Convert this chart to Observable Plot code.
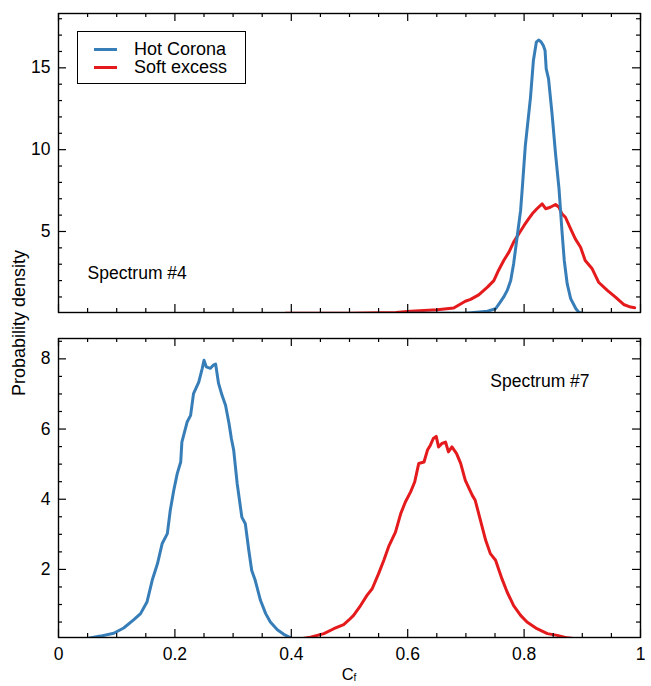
<!DOCTYPE html>
<html>
<head>
<meta charset="utf-8">
<script src="https://cdn.jsdelivr.net/npm/d3@7"></script>
<script src="https://cdn.jsdelivr.net/npm/@observablehq/plot@0.6"></script>
<style>
  body { margin: 0; background: #fff; font-family: "Liberation Sans", Arial, Helvetica, sans-serif; }
  #wrap { position: relative; width: 651px; height: 686px; background: #fff; overflow: hidden; }
  #p1 { position: absolute; left: 0; top: 0; }
  #p2 { position: absolute; left: 0; top: 320px; }
  #ylab { position: absolute; left: 19px; top: 323px; transform: translate(-50%, -50%) rotate(-90deg);
          white-space: nowrap; font-size: 18px; color: #000; }
  #xlab { position: absolute; left: 349px; top: 674px; transform: translate(-50%, -50%);
          font-size: 16.5px; line-height: 18px; color: #000; white-space: nowrap; }
  #xlab sub { font-size: 10px; vertical-align: -1px; line-height: 10px; }
  #legend { position: absolute; left: 77px; top: 31px; width: 169px; height: 53px;
            border: 1px solid #000; background: #fff; box-sizing: border-box; }
  .lg { position: absolute; left: 16px; height: 18px; display: flex; align-items: center; font-size: 18px; color: #000; white-space: nowrap; }
  .lg span.sw { display: inline-block; width: 23px; height: 3px; margin-right: 17px; }
</style>
</head>
<body>
<div id="wrap">
  <div id="p1"></div>
  <div id="p2"></div>
  <div id="ylab">Probability density</div>
  <div id="xlab">C<sub>f</sub></div>
  <div id="legend">
    <div class="lg" id="lg1" style="top:8px"><span class="sw" id="sw1"></span><span id="t1"></span></div>
    <div class="lg" id="lg2" style="top:26px"><span class="sw" id="sw2"></span><span id="t2"></span></div>
  </div>
</div>
<script>
// ---- series names & colours ----
const seriesNames = ["Hot Corona", "Soft excess"];
const seriesColors = ["#377eb8", "#e41a1c"];
const panelNotes = ["Spectrum #4", "Spectrum #7"];

// ---- x ticks ----
const xMajorTicks = [0, 0.2, 0.4, 0.6, 0.8, 1];
const xMinorTicks = d3.range(0, 1.0001, 0.05).map(v => +v.toFixed(2));

// ---- panel 1 (Spectrum #4) ----
const s4HotX = [0.60, 0.70, 0.737, 0.751, 0.759, 0.765, 0.771, 0.777, 0.782, 0.788, 0.794, 0.797, 0.802, 0.811, 0.816, 0.821, 0.825, 0.829, 0.833, 0.836, 0.838, 0.842, 0.848, 0.854, 0.860, 0.865, 0.869, 0.874, 0.880, 0.889, 0.894, 0.90];
const s4HotY = [0, 0.01, 0.13, 0.28, 0.69, 1.0, 1.40, 2.0, 3.03, 4.66, 6.29, 7.7, 10.2, 13.2, 15.45, 16.57, 16.7, 16.6, 16.36, 16.06, 14.94, 14.33, 12.2, 9.75, 7.6, 5.06, 3.23, 1.81, 0.9, 0.28, 0.07, 0];
const s4SoftX = [0.39, 0.50, 0.58, 0.605, 0.651, 0.679, 0.699, 0.708, 0.722, 0.737, 0.748, 0.756, 0.765, 0.774, 0.782, 0.791, 0.800, 0.808, 0.814, 0.822, 0.831, 0.837, 0.845, 0.854, 0.860, 0.865, 0.871, 0.880, 0.888, 0.897, 0.905, 0.917, 0.928, 0.943, 0.957, 0.971, 0.983, 0.990];
const s4SoftY = [0, 0.01, 0.05, 0.13, 0.22, 0.32, 0.74, 0.85, 1.13, 1.60, 2.0, 2.62, 3.23, 3.74, 4.35, 4.86, 5.37, 5.78, 6.08, 6.39, 6.69, 6.39, 6.48, 6.65, 6.48, 6.08, 5.87, 5.16, 4.55, 4.04, 3.23, 2.72, 1.90, 1.40, 0.99, 0.54, 0.38, 0.34];
const p1YDomain = [0.05, 18.32];
const p1YMajor = [5, 10, 15];
const p1YMinor = d3.range(1, 19);

// ---- panel 2 (Spectrum #7) ----
const s7HotX = [0.049, 0.072, 0.095, 0.112, 0.129, 0.141, 0.152, 0.161, 0.170, 0.178, 0.187, 0.192, 0.198, 0.204, 0.210, 0.212, 0.221, 0.227, 0.232, 0.241, 0.247, 0.250, 0.254, 0.261, 0.266, 0.270, 0.275, 0.281, 0.287, 0.293, 0.297, 0.301, 0.307, 0.315, 0.321, 0.327, 0.332, 0.338, 0.347, 0.356, 0.364, 0.376, 0.387, 0.399];
const s7HotY = [0.03, 0.10, 0.18, 0.33, 0.56, 0.74, 1.07, 1.69, 2.16, 2.73, 3.02, 3.68, 4.25, 4.73, 5.06, 5.63, 6.20, 6.39, 7.01, 7.34, 7.73, 7.96, 7.77, 7.73, 7.82, 7.85, 7.30, 6.96, 6.68, 6.16, 5.73, 5.40, 4.45, 3.49, 3.30, 2.54, 1.97, 1.69, 1.12, 0.74, 0.50, 0.28, 0.15, 0.05];
const s7SoftX = [0.416, 0.433, 0.456, 0.473, 0.490, 0.499, 0.507, 0.519, 0.530, 0.539, 0.550, 0.559, 0.568, 0.579, 0.588, 0.596, 0.605, 0.612, 0.619, 0.628, 0.634, 0.639, 0.644, 0.649, 0.653, 0.659, 0.665, 0.670, 0.676, 0.684, 0.691, 0.699, 0.711, 0.716, 0.725, 0.734, 0.742, 0.751, 0.762, 0.771, 0.782, 0.794, 0.805, 0.822, 0.840, 0.857, 0.874, 0.891, 0.90];
const s7SoftY = [0.02, 0.07, 0.17, 0.31, 0.43, 0.56, 0.69, 0.97, 1.26, 1.45, 1.88, 2.26, 2.68, 3.06, 3.59, 3.92, 4.21, 4.49, 5.02, 5.06, 5.40, 5.54, 5.73, 5.79, 5.49, 5.59, 5.63, 5.35, 5.49, 5.30, 5.02, 4.54, 4.11, 3.97, 3.40, 2.83, 2.45, 2.26, 1.73, 1.35, 0.97, 0.69, 0.50, 0.31, 0.17, 0.12, 0.05, 0.02, 0];
const p2YDomain = [0.06, 8.58];
const p2YMajor = [2, 4, 6, 8];
const p2YMinor = d3.range(0.5, 8.51, 0.5);

const toPts = (xs, ys, s) => xs.map((x, i) => ({x, y: ys[i], s}));
const fmtX = d => String(+(+d).toFixed(1));

const FW = 582, FH = 299, MAJ = 8, MIN = 4;
const FONT = '"Liberation Sans", Arial, Helvetica, sans-serif';

function tickMarks(yDomain, yMajor, yMinor) {
  const inY = v => v >= yDomain[0] && v <= yDomain[1];
  const ymaj = yMajor.filter(inY), ymin = yMinor.filter(v => inY(v) && !yMajor.includes(v));
  const xmin = xMinorTicks.filter(v => !xMajorTicks.some(m => Math.abs(m - v) < 1e-9));
  const sw = 1.2;
  return [
    Plot.tickY(ymaj, {y: d => d, insetRight: FW - MAJ, stroke: "#000", strokeWidth: sw}),
    Plot.tickY(ymaj, {y: d => d, insetLeft: FW - MAJ, stroke: "#000", strokeWidth: sw}),
    Plot.tickY(ymin, {y: d => d, insetRight: FW - MIN, stroke: "#000", strokeWidth: sw}),
    Plot.tickY(ymin, {y: d => d, insetLeft: FW - MIN, stroke: "#000", strokeWidth: sw}),
    Plot.tickX(xMajorTicks, {x: d => d, insetTop: FH - MAJ, stroke: "#000", strokeWidth: sw}),
    Plot.tickX(xMajorTicks, {x: d => d, insetBottom: FH - MAJ, stroke: "#000", strokeWidth: sw}),
    Plot.tickX(xmin, {x: d => d, insetTop: FH - MIN, stroke: "#000", strokeWidth: sw}),
    Plot.tickX(xmin, {x: d => d, insetBottom: FH - MIN, stroke: "#000", strokeWidth: sw})
  ];
}

function seriesLines(hot, soft) {
  return [
    Plot.line(soft, {x: "x", y: "y", stroke: seriesColors[1], strokeWidth: 3, curve: "linear", clip: true}),
    Plot.line(hot, {x: "x", y: "y", stroke: seriesColors[0], strokeWidth: 3, curve: "linear", clip: true})
  ];
}

// Panel 1
const p1 = Plot.plot({
  width: 651, height: 320,
  marginLeft: 58, marginRight: 11, marginTop: 13, marginBottom: 8,
  x: {domain: [0, 1], axis: null},
  y: {domain: p1YDomain},
  style: {fontFamily: FONT, fontSize: "17.5px", color: "#000", background: "#fff", overflow: "visible"},
  marks: [
    Plot.axisY(p1YMajor, {tickSize: 0, tickPadding: 8, label: null, fontSize: 17.5}),
    ...seriesLines(toPts(s4HotX, s4HotY), toPts(s4SoftX, s4SoftY)),
    Plot.text([panelNotes[0]], {x: 0.05, y: 2.43, text: d => d, textAnchor: "start", fontSize: 17.5, fill: "#000"}),
    ...tickMarks(p1YDomain, p1YMajor, p1YMinor),
    Plot.frame({stroke: "#000", strokeWidth: 1.4})
  ]
});
document.getElementById("p1").appendChild(p1);

// Panel 2
const p2 = Plot.plot({
  width: 651, height: 366,
  marginLeft: 58, marginRight: 11, marginTop: 18, marginBottom: 49,
  x: {domain: [0, 1]},
  y: {domain: p2YDomain},
  style: {fontFamily: FONT, fontSize: "17.5px", color: "#000", background: "#fff", overflow: "visible"},
  marks: [
    Plot.axisY(p2YMajor, {tickSize: 0, tickPadding: 8, label: null, fontSize: 17.5}),
    Plot.axisX(xMajorTicks, {tickSize: 0, tickPadding: 10, label: null, tickFormat: fmtX, fontSize: 17.5}),
    ...seriesLines(toPts(s7HotX, s7HotY), toPts(s7SoftX, s7SoftY)),
    Plot.text([panelNotes[1]], {x: 0.742, y: 7.36, text: d => d, textAnchor: "start", fontSize: 17.5, fill: "#000"}),
    ...tickMarks(p2YDomain, p2YMajor, p2YMinor),
    Plot.frame({stroke: "#000", strokeWidth: 1.4})
  ]
});
document.getElementById("p2").appendChild(p2);

// Legend
document.getElementById("sw1").style.background = seriesColors[0];
document.getElementById("sw2").style.background = seriesColors[1];
document.getElementById("t1").textContent = seriesNames[0];
document.getElementById("t2").textContent = seriesNames[1];
</script>
</body>
</html>
